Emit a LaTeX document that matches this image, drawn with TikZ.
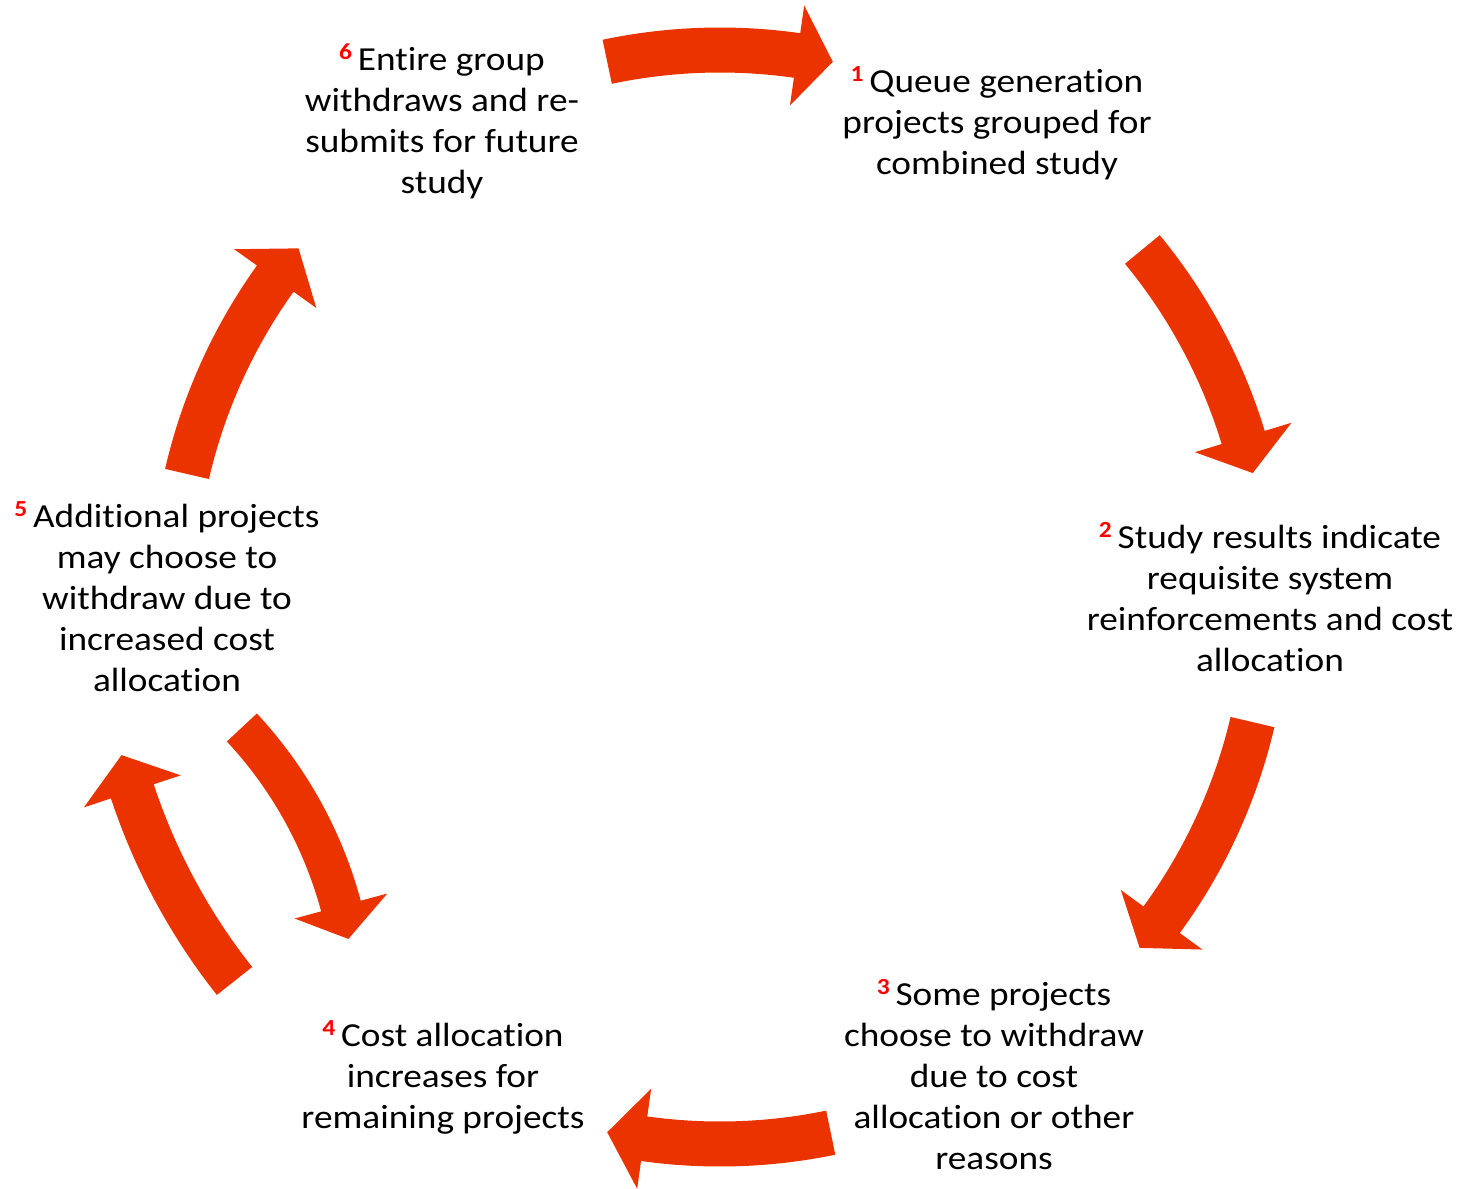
\documentclass[tikz,border=0pt]{standalone}
\usepackage{fontspec}
\setmainfont{Carlito}[FakeStretch=1.11, RawFeature={-liga}]
\usetikzlibrary{calc}
\definecolor{flowred}{RGB}{235,51,0}
\definecolor{tagred}{RGB}{255,0,0}

% red step number, raised, in front of the first line (the rule fixes the first line's height)
\newcommand\numtag[1]{\rule{0pt}{30pt}\raisebox{11pt}{\fontsize{23}{23}\selectfont\bfseries\color{tagred}#1\ }}

% curved block arrow along a circle:
% #1 centre, #2 radius, #3 tail angle, #4 head-base angle, #5 tip angle,
% #6 half width of the shaft, #7 half width of the head
\newcommand\bentarrow[7]{%
  \fill[flow] ($(#1)+(#3:#2+#6)$) arc[start angle=#3, end angle=#4, radius=#2+#6]
    -- ($(#1)+(#4:#2+#7)$) -- ($(#1)+(#5:#2)$) -- ($(#1)+(#4:#2-#7)$)
    -- ($(#1)+(#4:#2-#6)$) arc[start angle=#4, end angle=#3, radius=#2-#6] -- cycle;}

\begin{document}
\begin{tikzpicture}[x=1pt, y=-1pt,
  stage/.style={align=center, inner sep=0pt, anchor=north,
                font=\fontsize{33.6}{41}\selectfont},
  flow/.style={fill=flowred}]
\useasboundingbox (0,0) rectangle (1460,1189);

\coordinate (hub) at (720,597);
\coordinate (hubb) at (-67.5,1016);

% the six stages
\node[stage] (s1) at (997,62)   {\numtag{1}Queue generation\\projects grouped for\\combined study};
\node[stage] (s2) at (1270,518) {\numtag{2}Study results indicate\\requisite system\\reinforcements and cost\\allocation};
\node[stage] (s3) at (994,975)  {\numtag{3}Some projects\\choose to withdraw\\due to cost\\allocation or other\\reasons};
\node[stage] (s4) at (443,1016) {\numtag{4}Cost allocation\\increases for\\remaining projects};
\node[stage] (s5) at (167,497)  {\numtag{5}Additional projects\\may choose to\\withdraw due to\\increased cost\\allocation};
\node[stage] (s6) at (442,40)   {\numtag{6}Entire group\\withdraws and re-\\submits for future\\study};

% outer cycle
\bentarrow{hub}{547}{-101.9}{-81.9}{-78.1}{22.5}{50.5}   % 6 -> 1
\bentarrow{hub}{547}{-39.45}{-16.96}{-13.1}{22.5}{50.5}  % 1 -> 2
\bentarrow{hub}{547}{13.22}{36.16}{39.9}{22.5}{50.5}     % 2 -> 3
\bentarrow{hub}{547}{78.32}{97.97}{101.9}{22.5}{50.5}    % 3 -> 4
\bentarrow{hub}{547}{193.0}{215.6}{219.6}{22.5}{50.5}    % 5 -> 6

% loop between 4 and 5
\bentarrow{hub}{619}{141.66}{161.7}{165.2}{22.5}{51}     % 4 -> 5
\bentarrow{hubb}{423}{-43.0}{-15.07}{-10.5}{20.5}{48}    % 5 -> 4
\end{tikzpicture}
\end{document}
